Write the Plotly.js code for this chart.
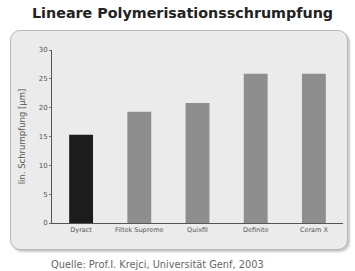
<!DOCTYPE html>
<html><head><meta charset="utf-8">
<script src="https://cdn.plot.ly/plotly-3.0.1.min.js"></script>
<style>
html,body{margin:0;padding:0;background:#fff;}
#wrap{position:relative;width:355px;height:271px;}
#panel{position:absolute;left:10px;top:30px;width:336px;height:218px;background:#ebebeb;border:1px solid #b8b8b8;border-radius:10px;box-shadow:2px 2px 2px #c8c8c8;}
#chart{position:absolute;left:0;top:0;width:355px;height:271px;}
</style></head>
<body><div id="wrap"><div id="panel"></div><div id="chart"></div></div>
<script>
const categories = ["Dyract", "Filtek Supreme", "Quixfil", "Definite", "Ceram X"];
const shrinkage = [15.3, 19.3, 20.8, 25.9, 25.9];
const barColors = ["#1c1c1c", "#8e8e8e", "#8e8e8e", "#8e8e8e", "#8e8e8e"];
const yTicks = [0, 5, 10, 15, 20, 25, 30];

Plotly.newPlot("chart", [{
  type: "bar", x: categories, y: shrinkage,
  marker: {color: barColors}, hoverinfo: "none"
}], {
  width: 355, height: 271,
  margin: {l: 52, r: 12, t: 50, b: 48},
  paper_bgcolor: "rgba(0,0,0,0)", plot_bgcolor: "rgba(0,0,0,0)",
  bargap: 0.59, showlegend: false,
  font: {family: "DejaVu Sans, sans-serif", color: "#444"},
  xaxis: {showline: true, linecolor: "#555", linewidth: 1, ticks: "", showgrid: false,
          tickfont: {size: 6.5, color: "#555"}, fixedrange: true},
  yaxis: {range: [0, 30], tickvals: yTicks, showline: true, linecolor: "#555", linewidth: 1,
          ticks: "outside", ticklen: 2, tickcolor: "#777", showgrid: false, zeroline: false,
          tickfont: {size: 7, color: "#555"},
          title: {text: "lin. Schrumpfung [µm]", font: {size: 8.5, color: "#555"}, standoff: 11}},
  annotations: [
    {text: "<b>Lineare Polymerisationsschrumpfung</b>", xref: "paper", yref: "paper",
     x: 0.447, y: 1, yshift: 37, xanchor: "center", yanchor: "middle", showarrow: false,
     font: {size: 14.3, color: "#222", family: "DejaVu Sans, sans-serif"}},
    {text: "Quelle: Prof.I. Krejci, Universität Genf, 2003", xref: "paper", yref: "paper",
     x: -0.012, y: 0, yshift: -41, xanchor: "left", yanchor: "middle", showarrow: false,
     font: {size: 9.8, color: "#666"}}
  ]
}, {staticPlot: true});
</script></body></html>
